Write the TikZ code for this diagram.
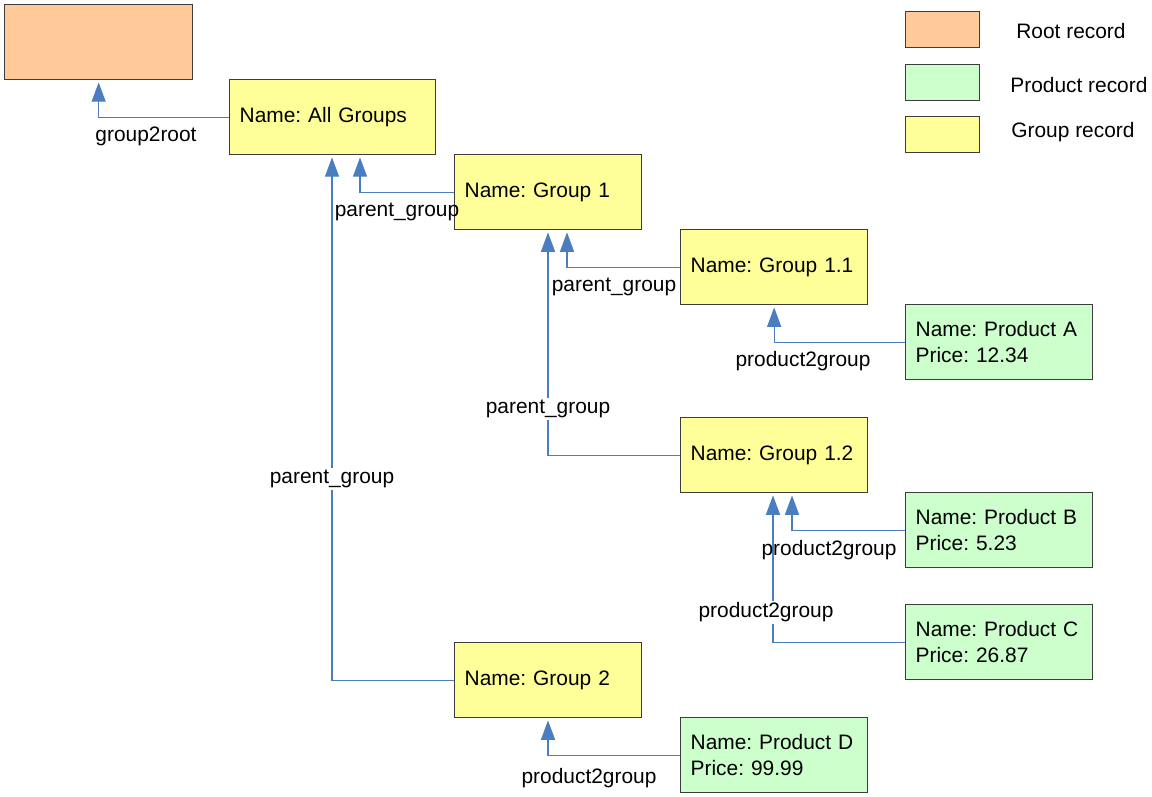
\documentclass[tikz,border=0pt]{standalone}
\usepackage{fontspec}
\setmainfont{Liberation Sans}
\usetikzlibrary{arrows.meta,calc}
\definecolor{rootc}{HTML}{FFC999}
\definecolor{prodc}{HTML}{CCFFCC}
\definecolor{grpc}{HTML}{FFFF99}
\definecolor{edgec}{HTML}{4A7EC0}
\definecolor{bordc}{HTML}{3C3C3C}
\frenchspacing
\begin{document}
\begin{tikzpicture}[x=0.02cm,y=-0.02cm,
  font=\fontsize{11.9}{14.8}\selectfont\frenchspacing,
  rec/.style={draw=bordc,line width=0.75pt,anchor=north west,minimum height=1.5cm,
    text width=3.34cm,inner xsep=0.2cm,inner ysep=0pt,align=left},
  grp/.style={rec,fill=grpc},
  prod/.style={rec,fill=prodc},
  rootrec/.style={rec,fill=rootc,text width=3.36cm},
  legbox/.style={draw=bordc,line width=0.75pt,anchor=north west,minimum width=1.48cm,minimum height=0.72cm,inner sep=0pt},
  conn/.style={draw=edgec,line width=0.6pt,-{Triangle[width=8pt,length=11pt]},shorten >=1.2pt},
  lab/.style={inner sep=1pt},
  onlab/.style={lab,fill=white}
]
\useasboundingbox (0,0) rectangle (1152,796);

% records
\node[rootrec] (root) at (4,4) {};
\node[grp,text width=3.72cm] (ag) at (229,79) {Name: All Groups};
\node[grp] (g1) at (454,154) {Name: Group 1};
\node[grp] (g11) at (680,229) {Name: Group 1.1};
\node[prod] (pa) at (905,304) {Name: Product A\\Price: 12.34};
\node[grp] (g12) at (680,417) {Name: Group 1.2};
\node[prod] (pb) at (905,492) {Name: Product B\\Price: 5.23};
\node[prod] (pc) at (905,604) {Name: Product C\\Price: 26.87};
\node[grp] (g2) at (454,642) {Name: Group 2};
\node[prod] (pd) at (680,717) {Name: Product D\\Price: 99.99};

% legend
\node[legbox,fill=rootc] (l1) at (905,11) {};
\node[legbox,fill=prodc] (l2) at (905,64) {};
\node[legbox,fill=grpc] (l3) at (905,116) {};
\node[anchor=west,inner sep=0pt] (l1t) at (1016,31) {Root record};
\node[anchor=west,inner sep=0pt] (l2t) at (1010,85) {Product record};
\node[anchor=west,inner sep=0pt] (l3t) at (1011,132) {Group record};

% connectors
\draw[conn] (ag.west) -| (root.south);
\draw[conn] (g1.west) -| ($(ag.south west)+(131,0)$);
\draw[conn] (g2.west) -| ($(ag.south west)+(103,0)$);
\draw[conn] (g11.west) -| ($(g1.south west)+(113,0)$);
\draw[conn] (g12.west) -| ($(g1.south west)+(94,0)$);
\draw[conn] (pa.west) -| (g11.south);
\draw[conn] (pb.west) -| ($(g12.south west)+(112,0)$);
\draw[conn] (pc.west) -| ($(g12.south west)+(93,0)$);
\draw[conn] (pd.west) -| ($(g2.south west)+(94,0)$);

% labels
\node[lab] (lr) at (146,136) {group2root};
\node[lab] (lg1) at (397,212) {parent\_group};
\node[onlab] (lg2) at (332,479) {parent\_group};
\node[lab] (lg11) at (614,287) {parent\_group};
\node[onlab] (lg12) at (548,409) {parent\_group};
\node[lab] (lpa) at (803,361) {product2group};
\node[lab] (lpb) at (829,550) {product2group};
\node[onlab] (lpc) at (766,612) {product2group};
\node[lab] (lpd) at (589,778) {product2group};
\end{tikzpicture}
\end{document}
